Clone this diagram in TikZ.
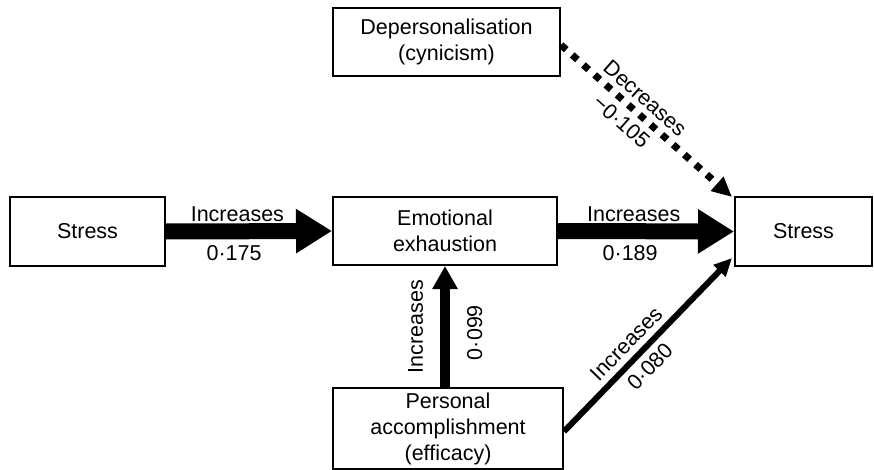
\documentclass[tikz,border=0pt]{standalone}
\usepackage{fontspec}
\setmainfont{Liberation Sans}
\usetikzlibrary{arrows.meta,calc}
\begin{document}
\begin{tikzpicture}[x=1pt,y=-1pt,
  box/.style={draw=black,line width=2pt,minimum width=#1,inner sep=0pt,align=center,font=\fontsize{21.5}{26}\selectfont},
  lbl/.style={font=\fontsize{21.5}{24}\selectfont,inner sep=1pt},
  bigarrow/.style={line width=16pt,-{Triangle[length=36pt,width=42pt]}},
  medarrow/.style={line width=10pt,-{Triangle[length=23pt,width=24pt]}},
  thinarrow/.style={line width=6pt,-{Triangle[length=18pt,width=16pt]}},
  dotarrow/.style={line width=7pt,dash pattern=on 7pt off 8pt,-{Triangle[length=20pt,width=18pt]}}]
\useasboundingbox (0,0) rectangle (874,470);
\node[box=155pt,minimum height=69pt] (s1) at (87.5,231.5) {Stress};
\node[box=224pt,minimum height=68pt] (emo) at (445,231) {Emotional\\exhaustion};
\node[box=137pt,minimum height=69pt] (s2) at (803.5,231.5) {Stress};
\node[box=227pt,minimum height=68pt] (dep) at (446.5,42) {Depersonalisation\\(cynicism)};
\node[box=230pt,minimum height=81pt] (pa) at (448,428.5) {Personal\\accomplishment\\(efficacy)};
\draw[bigarrow] (s1.east) -- node[lbl,above=1pt,pos=0.43]{Increases} node[lbl,below=5pt,pos=0.41]{0·175} (emo.west);
\draw[bigarrow] (emo.east) -- node[lbl,above=1pt,pos=0.43]{Increases} node[lbl,below=5pt,pos=0.41]{0·189} (s2.west);
\draw[medarrow] (emo.south |- pa.north) -- node[lbl,rotate=90,above=16pt,pos=0.5]{Increases} node[lbl,rotate=90,below=16pt,pos=0.45]{0·099} (emo.south);
\coordinate (pastart) at ($(pa.east)+(0,3)$);
\coordinate (s2low) at ($(s2.south west)+(-2,-9)$);
\draw[thinarrow] (pastart) -- node[lbl,sloped,above=5pt,pos=0.44]{Increases} node[lbl,sloped,below=5pt,pos=0.44]{0·080} (s2low);
\coordinate (depstart) at ($(dep.east)+(0,3)$);
\coordinate (s2top) at ($(s2.north west)+(-2,1)$);
\draw[dotarrow] (depstart) -- node[lbl,sloped,above=4pt,pos=0.43]{Decreases} node[lbl,sloped,below=5pt,pos=0.42]{−0·105} (s2top);
\end{tikzpicture}
\end{document}
